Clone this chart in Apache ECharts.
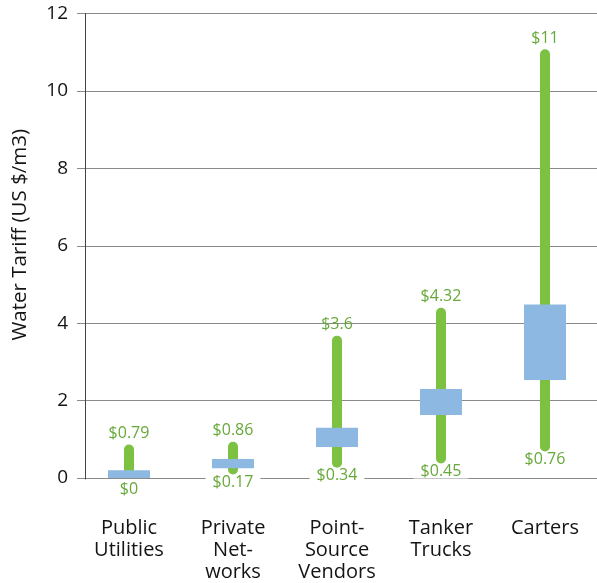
<!DOCTYPE html>
<html>
<head>
<meta charset="utf-8">
<script src="https://cdn.jsdelivr.net/npm/echarts@6/dist/echarts.min.js"></script>
<style>
html,body{margin:0;padding:0;background:#fff;}
#chart{width:597px;height:583px;}
</style>
</head>
<body>
<div id="chart"></div>
<script>
const categories = ['Public\nUtilities', 'Private\nNet-\nworks', 'Point-\nSource\nVendors', 'Tanker\nTrucks', 'Carters'];
const rangeLow  = [0, 0.17, 0.34, 0.45, 0.76];
const rangeHigh = [0.79, 0.86, 3.6, 4.32, 11];
const boxLow    = [0, 0.25, 0.8, 1.63, 2.53];
const boxHigh   = [0.2, 0.49, 1.3, 2.3, 4.48];
const lowLabels  = ['$0', '$0.17', '$0.34', '$0.45', '$0.76'];
const highLabels = ['$0.79', '$0.86', '$3.6', '$4.32', '$11'];
const yTicks = [0, 2, 4, 6, 8, 10, 12];

const data = categories.map((c, i) => [i, rangeLow[i], rangeHigh[i], boxLow[i], boxHigh[i]]);
const FONT = '"Open Sans", "Noto Sans", sans-serif';
const GREEN = '#7cc142';
const BLUE = '#8cb8e2';
const LABEL_GREEN = '#66a839';
const TEXT = '#141414';

const chart = echarts.init(document.getElementById('chart'), null, {renderer: 'canvas'});

chart.setOption({
  animation: false,
  grid: [
    {left: 77, right: 0, top: 13.5, bottom: 104},
    {left: 85, right: 0, top: 13.5, bottom: 104}
  ],
  xAxis: [
    {
      type: 'category', gridIndex: 0, data: categories,
      axisLine: {show: false}, axisTick: {show: false},
      axisLabel: {fontFamily: FONT, fontSize: 20, lineHeight: 22, color: TEXT, margin: 39, interval: 0}
    },
    {type: 'value', gridIndex: 1, show: false, min: 0, max: 1}
  ],
  yAxis: [
    {
      type: 'value', gridIndex: 0, min: yTicks[0], max: yTicks[yTicks.length - 1], interval: 2,
      name: 'Water Tariff (US $/m3)', nameLocation: 'middle', nameGap: 46, nameRotate: 90,
      nameTextStyle: {fontFamily: FONT, fontSize: 20.5, color: TEXT, padding: [0, 0, 0, 22]},
      axisLine: {show: false}, axisTick: {show: false},
      axisLabel: {fontFamily: FONT, fontSize: 19, color: TEXT, margin: 9},
      splitLine: {show: true, lineStyle: {color: '#8a8a8a', width: 1}}
    },
    {
      type: 'value', gridIndex: 1, min: 0, max: 12,
      axisLine: {show: true, lineStyle: {color: '#444', width: 1}},
      axisTick: {show: false}, axisLabel: {show: false}, splitLine: {show: false}
    }
  ],
  series: [
    {
      type: 'custom', xAxisIndex: 0, yAxisIndex: 0, clip: true, data: data,
      renderItem: function (params, api) {
        const i = api.value(0);
        const lo = api.coord([i, api.value(1)]);
        const hi = api.coord([i, api.value(2)]);
        const b1 = api.coord([i, api.value(3)]);
        const b2 = api.coord([i, api.value(4)]);
        const x = lo[0];
        const ext = 3;
        return {
          type: 'group',
          children: [
            {type: 'rect', shape: {x: x - 5, y: hi[1] - ext, width: 10, height: lo[1] - hi[1] + 2 * ext, r: 5},
             style: {fill: GREEN}},
            {type: 'rect', shape: {x: x - 21, y: b2[1], width: 42, height: b1[1] - b2[1]},
             style: {fill: BLUE}}
          ]
        };
      }
    },
    {
      type: 'custom', xAxisIndex: 0, yAxisIndex: 0, clip: false, data: data, z: 5,
      renderItem: function (params, api) {
        const i = api.value(0);
        const lo = api.coord([i, api.value(1)]);
        const hi = api.coord([i, api.value(2)]);
        const x = lo[0];
        return {
          type: 'group',
          children: [
            {type: 'text', style: {text: highLabels[params.dataIndex], x: x, y: hi[1] - 14,
              align: 'center', verticalAlign: 'middle', fill: LABEL_GREEN, font: '16px ' + FONT}},
            {type: 'text', style: {text: lowLabels[params.dataIndex], x: x, y: lo[1] + 11,
              align: 'center', verticalAlign: 'middle', fill: LABEL_GREEN, font: '16px ' + FONT,
              backgroundColor: '#fff', padding: [0, 7], lineHeight: 14}}
          ]
        };
      }
    }
  ]
});
</script>
</body>
</html>
